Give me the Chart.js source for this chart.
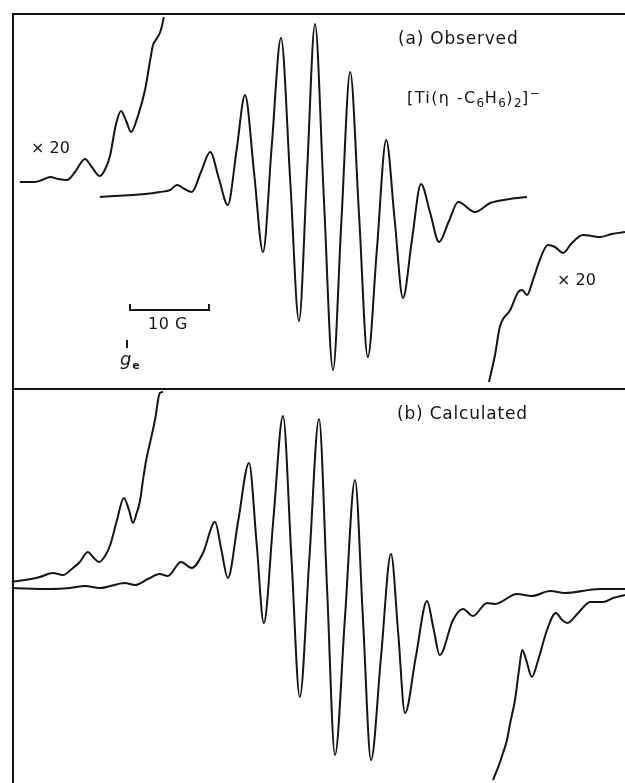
<!DOCTYPE html>
<html>
<head>
<meta charset="utf-8">
<script src="https://cdn.jsdelivr.net/npm/chart.js@4"></script>
<style>
  html, body { margin: 0; padding: 0; background: #fff; }
  #wrap { position: relative; width: 625px; height: 783px; overflow: hidden; }
  canvas { position: absolute; left: 0; }
  #panelA { top: 0; }
  #panelB { top: 389px; }
  .line { position: absolute; background: #151515; }
  .lbl { position: absolute; font-family: "DejaVu Sans", sans-serif; font-size: 17px; color: #151515; letter-spacing: 0.8px; white-space: nowrap; line-height: 1; }
  .lbl sub { font-size: 12px; vertical-align: -4px; letter-spacing: 0.5px; }
  .lbl sup { font-size: 12px; vertical-align: 6px; }
</style>
</head>
<body>
<div id="wrap">
  <canvas id="panelA" width="625" height="390"></canvas>
  <canvas id="panelB" width="625" height="394"></canvas>

  <!-- frames -->
  <div class="line" style="left:12px;top:13px;width:613px;height:2px;"></div>
  <div class="line" style="left:12px;top:13px;width:2px;height:770px;"></div>
  <div class="line" style="left:12px;top:388px;width:613px;height:2px;"></div>

  <!-- labels -->
  <div class="lbl" style="left:31px;top:140px;font-size:16px;letter-spacing:0;">× 20</div>
  <div class="lbl" style="left:557px;top:272px;font-size:16px;letter-spacing:0;">× 20</div>
  <div class="lbl" style="left:398px;top:30px;">(a) Observed</div>
  <div class="lbl" style="left:407px;top:87px;font-size:16px;letter-spacing:1.4px;">[Ti(η -C<sub>6</sub>H<sub>6</sub>)<sub>2</sub>]<sup>−</sup></div>
  <div class="lbl" style="left:397px;top:405px;">(b) Calculated</div>

  <!-- 10 G scale bar and g_e marker -->
  <div class="line" style="left:129px;top:309px;width:81px;height:2px;"></div>
  <div class="line" style="left:129px;top:304px;width:2px;height:6px;"></div>
  <div class="line" style="left:208px;top:304px;width:2px;height:6px;"></div>
  <div class="lbl" style="left:148px;top:316px;font-size:16px;letter-spacing:0.5px;">10 G</div>
  <div class="line" style="left:126px;top:340px;width:1.5px;height:8px;"></div>
  <div class="lbl" style="left:120px;top:350px;font-style:italic;font-size:18px;">g<sub style="font-style:normal;font-weight:bold;font-size:11px;">e</sub></div>
</div>

<script>
// field offset from g_e in gauss, signal in arbitrary units (as displayed)

// (a) observed, main trace
const obsField = [-3.4, 2.25, 4.1, 5.4, 6.25, 7.2, 8.1, 9.25, 10.4, 11.5, 12.6, 13.7, 14.75, 15.9, 17.0, 18.1, 19.25, 20.4,
  21.5, 22.5, 23.5, 24.6, 25.75, 26.8, 27.9, 29.0, 30.1, 31.25, 32.4, 33.45, 34.5, 35.6, 36.75, 37.9, 39.0, 40.2, 41.4,
  43.5, 45.4, 47.9, 50.0];
const obsSignal = [0, 3, 5, 7, 12, 8, 5, 25, 45, 18, -8, 47, 102, 23, -55, 52, 159, 17,
  -124, 24, 173, 0, -173, -24, 125, -17, -160, -51, 57, -22, -101, -44, 13, -16, -45, -25, -5,
  -15, -6, -2, 0];

// (a) observed, x20 wings
const obsLowField = [-13.4, -11.5, -10.6, -9.6, -8.6, -7.5, -6.5, -5.25, -4.4, -3.4, -2.6, -2.1, -1.4, -0.75, -0.1, 0.5,
  1.4, 2.25, 2.9, 3.25, 3.6, 4.1, 4.4, 4.6];
const obsLowSignal = [15, 15, 17, 20, 18, 17, 25, 38, 30, 21, 30, 42, 72, 86, 76, 65,
  82, 107, 137, 152, 157, 164, 172, 180];
const obsHighField = [45.25, 46.0, 46.6, 47.9, 48.9, 49.4, 50.0, 50.75, 51.6, 52.6, 53.5, 54.5, 55.6, 57.0, 58.1, 59.1, 60.6, 62.25];
const obsHighSignal = [-185, -158, -130, -113, -95, -93, -98, -83, -63, -48, -50, -56, -46, -38, -39, -40, -37, -35];

// (b) calculated, main trace
const calcField = [-14.4, -9.6, -7.1, -5.25, -3.4, -0.25, 1.0, 2.6, 4.1, 5.1, 6.75, 8.1, 9.5, 11.0, 11.8, 12.6, 13.9,
  15.25, 16.2, 17.1, 18.3, 19.5, 20.55, 21.6, 22.8, 24.0, 25.0, 26.0, 27.25, 28.5, 29.5, 30.5, 31.75, 33.0, 33.9,
  34.75, 36.1, 37.5, 38.3, 39.1, 40.75, 42.0, 43.25, 45.0, 46.0, 48.75, 50.6, 52.9, 54.75, 59.1, 62.25];
const calcSignal = [1, 0, 1, 3, 1, 6, 4, 10, 15, 13, 27, 21, 36, 67, 39, 11, 68,
  126, 46, -34, 70, 173, 32, -108, 31, 170, 2, -166, -28, 109, -31, -171, -68, 35, -44,
  -124, -68, -12, -39, -66, -31, -20, -27, -14, -15, -5, -7, -2, -4, 0, 0];

// (b) calculated, x20 wings
const calcLowField = [-14.4, -12.75, -10.9, -9.25, -8.0, -6.9, -5.9, -4.9, -4.25, -3.5, -2.75, -2.1, -1.25, -0.4, 0.25, 0.75,
  1.25, 1.6, 2.0, 2.4, 2.9, 3.5, 4.1, 4.5];
const calcLowSignal = [7, 9, 12, 16, 14, 20, 27, 37, 32, 27, 33, 44, 69, 91, 79, 66,
  77, 87, 109, 129, 147, 169, 196, 197];
const calcHighField = [45.75, 46.4, 47.0, 47.5, 47.9, 48.5, 49.0, 49.4, 49.9, 50.6, 51.4, 52.5, 53.6, 54.4, 55.0, 56.4,
  57.9, 59.5, 60.75, 62.25];
const calcHighSignal = [-191, -178, -164, -151, -134, -111, -81, -61, -71, -88, -71, -41, -24, -31, -34, -24,
  -13, -13, -9, -6];

const zip = (xs, ys) => xs.map((x, i) => ({ x, y: ys[i] }));

function trace(xs, ys) {
  return {
    data: zip(xs, ys),
    showLine: true,
    borderColor: '#151515',
    borderWidth: 2,
    pointRadius: 0,
    cubicInterpolationMode: 'monotone',
    fill: false
  };
}

function spectrum(canvas, datasets, yMin, yMax) {
  return new Chart(canvas, {
    type: 'scatter',
    data: { datasets },
    options: {
      responsive: false,
      animation: false,
      events: [],
      layout: { padding: 0 },
      plugins: { legend: { display: false }, tooltip: { enabled: false } },
      scales: {
        x: { type: 'linear', min: -15.875, max: 62.25, display: false },
        y: { type: 'linear', min: yMin, max: yMax, display: false }
      }
    }
  });
}

spectrum(document.getElementById('panelA'), [
  trace(obsField, obsSignal),
  trace(obsLowField, obsLowSignal),
  trace(obsHighField, obsHighSignal)
], -193, 197);

spectrum(document.getElementById('panelB'), [
  trace(calcField, calcSignal),
  trace(calcLowField, calcLowSignal),
  trace(calcHighField, calcHighSignal)
], -194, 200);
</script>
</body>
</html>
